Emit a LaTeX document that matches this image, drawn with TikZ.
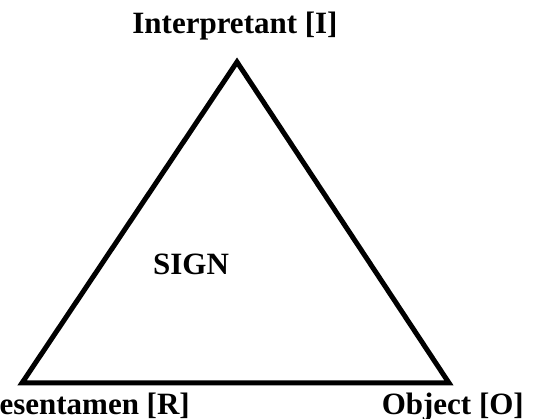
\documentclass[tikz,border=0pt]{standalone}
\usepackage{fontspec}
\setmainfont{Liberation Serif}
\begin{document}
\begin{tikzpicture}[x=1pt,y=1pt,
  lbl/.style={inner sep=0pt, font=\fontsize{31}{36}\selectfont\bfseries},
  tri/.style={line width=5pt, line join=miter}]
\useasboundingbox (0,0) rectangle (554,419);
\coordinate (I) at (237,357);
\coordinate (R) at (22,36);
\coordinate (O) at (449,36);
\draw[tri] (I) -- (R) -- (O) -- cycle;
\node[lbl, anchor=base] (ti) at (235,385) {Interpretant [I]};
\node[lbl, anchor=base west] (ts) at (153,144) {SIGN};
\node[lbl, anchor=base east] (tr) at (190,4) {Representamen [R]};
\node[lbl, anchor=base east] (to) at (524,4) {Object [O]};
\end{tikzpicture}
\end{document}
